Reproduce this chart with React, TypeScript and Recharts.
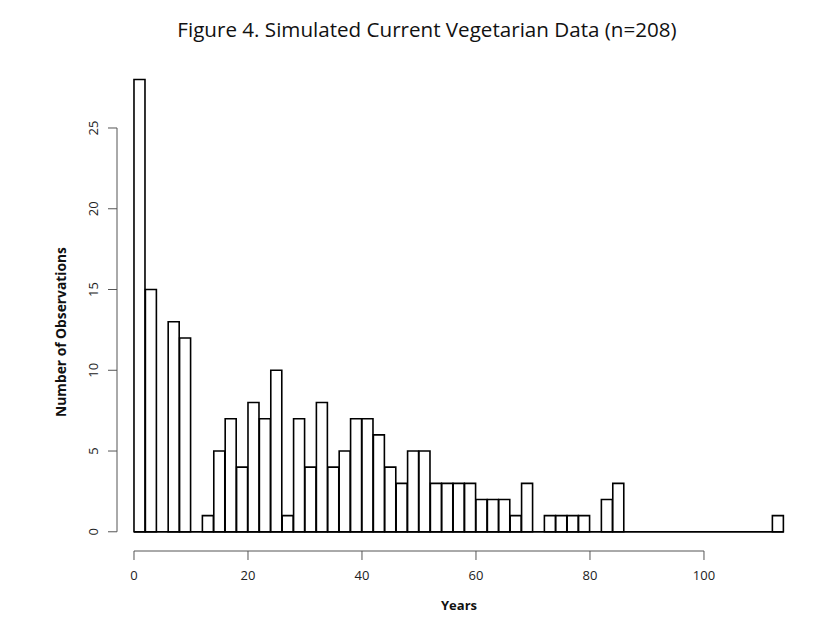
import React from 'react';
import { BarChart, Bar, XAxis, YAxis, ReferenceLine } from 'recharts';

// Histogram bins (left edges, years) and counts
const binStarts = [
  0, 2, 4, 6, 8, 10, 12, 14, 16, 18, 20, 22, 24, 26, 28, 30, 32, 34, 36, 38,
  40, 42, 44, 46, 48, 50, 52, 54, 56, 58, 60, 62, 64, 66, 68, 70, 72, 74, 76, 78,
  80, 82, 84, 86, 88, 90, 92, 94, 96, 98, 100, 102, 104, 106, 108, 110, 112,
];
const binWidth = 2;
const counts = [
  28, 15, 0, 13, 12, 0, 1, 5, 7, 4, 8, 7, 10, 1, 7, 4, 8, 4, 5, 7,
  7, 6, 4, 3, 5, 5, 3, 3, 3, 3, 2, 2, 2, 1, 3, 0, 1, 1, 1, 1,
  0, 2, 3, 0, 0, 0, 0, 0, 0, 0, 0, 0, 0, 0, 0, 0, 1,
];
const xTicks = [0, 20, 40, 60, 80, 100];
const yTicks = [0, 5, 10, 15, 20, 25];

const xDomain: [number, number] = [-2.98, 118.6];
const yDomain: [number, number] = [-1.19, 29.21];

const data = binStarts.map((s, i) => ({ x: s + binWidth / 2, count: counts[i] }));

const FONT = '"Open Sans", Lato, sans-serif';
const AXIS = '#555';
const TXT = '#222';

const YTick = (props: any) => {
  const { x, y, payload } = props;
  return (
    <text
      x={x}
      y={y}
      transform={`rotate(-90, ${x}, ${y})`}
      textAnchor="middle"
      fontSize={13}
      fontFamily={FONT}
      fill={TXT}
    >
      {payload.value}
    </text>
  );
};

const XTick = (props: any) => {
  const { x, y, payload } = props;
  return (
    <text x={x} y={y} dy="0.71em" textAnchor="middle" fontSize={13} fontFamily={FONT} fill={TXT}>
      {payload.value}
    </text>
  );
};

export default function App() {
  const lastEnd = binStarts[binStarts.length - 1] + binWidth;
  return (
    <div
      style={{
        position: 'absolute',
        left: 0,
        top: 0,
        width: 840,
        height: 630,
        background: '#ffffff',
        fontFamily: FONT,
      }}
    >
      <div
        style={{
          position: 'absolute',
          left: 0,
          width: 854,
          top: 16,
          textAlign: 'center',
          fontSize: 20.6,
          color: '#111',
          lineHeight: '26px',
        }}
      >
        Figure 4. Simulated Current Vegetarian Data (n=208)
      </div>
      <div
        style={{
          position: 'absolute',
          left: 359,
          width: 200,
          top: 596,
          textAlign: 'center',
          fontSize: 13,
          fontWeight: 700,
          color: '#111',
          lineHeight: '18px',
        }}
      >
        Years
      </div>
      <div
        style={{
          position: 'absolute',
          left: 61 - 100,
          width: 200,
          top: 332 - 9,
          textAlign: 'center',
          fontSize: 13.8,
          fontWeight: 700,
          color: '#111',
          lineHeight: '18px',
          transform: 'rotate(-90deg)',
          transformOrigin: '100px 9px',
          whiteSpace: 'nowrap',
        }}
      >
        Number of Observations
      </div>
      <div style={{ position: 'absolute', left: 0, top: 0 }}>
        <BarChart
          width={840}
          height={630}
          data={data}
          margin={{ top: 60, right: 30, bottom: 19, left: 0 }}
          barCategoryGap={0}
          barGap={0}
        >
          <XAxis
            dataKey="x"
            type="number"
            domain={xDomain}
            allowDataOverflow
            ticks={xTicks}
            interval={0}
            height={60}
            axisLine={false}
            tickLine={{ stroke: AXIS, strokeWidth: 1 }}
            tickSize={9}
            tickMargin={11}
            tick={<XTick />}
          />
          <YAxis
            type="number"
            domain={yDomain}
            allowDataOverflow
            ticks={yTicks}
            interval={0}
            width={117}
            axisLine={false}
            tickLine={{ stroke: AXIS, strokeWidth: 1 }}
            tickSize={9}
            tickMargin={10}
            tick={<YTick />}
          />
          <Bar
            dataKey="count"
            fill="#ffffff"
            stroke="#000000"
            strokeWidth={1.6}
            isAnimationActive={false}
          />
          <ReferenceLine
            segment={[{ x: 0, y: 0 }, { x: lastEnd, y: 0 }]}
            stroke="#000"
            strokeWidth={1.8}
            ifOverflow="visible"
          />
          <ReferenceLine
            segment={[{ x: xTicks[0], y: yDomain[0] }, { x: xTicks[xTicks.length - 1], y: yDomain[0] }]}
            stroke={AXIS}
            strokeWidth={1}
            ifOverflow="visible"
          />
          <ReferenceLine
            segment={[{ x: xDomain[0], y: yTicks[0] }, { x: xDomain[0], y: yTicks[yTicks.length - 1] }]}
            stroke={AXIS}
            strokeWidth={1}
            ifOverflow="visible"
          />
        </BarChart>
      </div>
    </div>
  );
}
